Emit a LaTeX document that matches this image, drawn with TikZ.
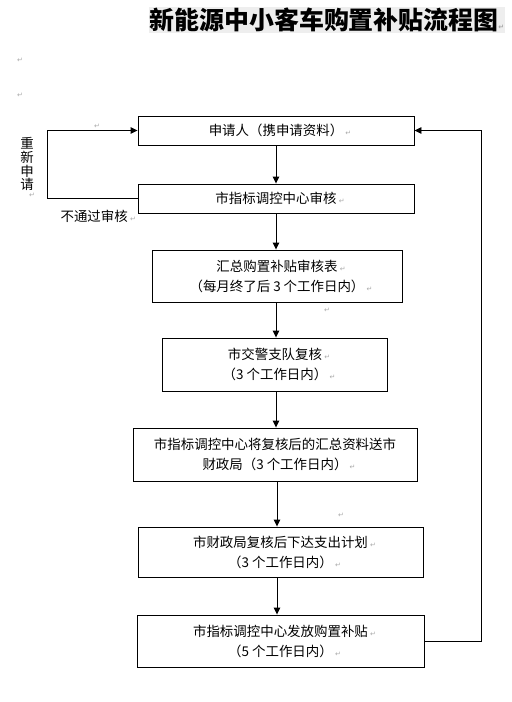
\documentclass[tikz,border=0pt]{standalone}
\usepackage{fontspec}
\setmainfont{Noto Sans CJK SC}
\newfontfamily\markfont{DejaVu Sans}
\usepackage{xcolor}
\definecolor{MarkGray}{HTML}{a8a8a8}
\definecolor{TitleShade}{HTML}{eeeeee}
\usepackage{tikz}
\usetikzlibrary{arrows.meta}

\newcommand{\retmark}{\textcolor{MarkGray}{\markfont\fontsize{7}{7}\selectfont ↵}}
\newcommand{\pmark}{\rlap{\,\retmark}}

\tikzset{
  stepbox/.style={draw, line width=0.9bp, align=center, inner sep=0pt,
    font=\fontsize{13.5}{20}\selectfont},
  flow/.style={line width=0.9bp, -{Triangle[length=7bp,width=6.5bp]}},
  note/.style={font=\fontsize{13.5}{14}\selectfont, inner sep=0pt, align=center},
  retnode/.style={inner sep=0pt},
}

\begin{document}
\begin{tikzpicture}[x=1bp, y=-1bp]
  \useasboundingbox (0,0) rectangle (512,702);
  % title
  \node[fill=TitleShade, inner sep=1bp, font=\bfseries\fontsize{25}{25}\selectfont]
    (title) at (327,20) {新能源中小客车购置补贴流程图\retmark};
  \node[retnode] (m1) at (20,60) {\retmark};
  \node[retnode] (m2) at (20,95) {\retmark};

  % steps
  \node[stepbox, minimum width=276bp, minimum height=29bp] (apply) at (276,130.5)
    {申请人（携申请资料）\pmark};
  \node[stepbox, minimum width=276bp, minimum height=29bp] (check) at (276,198.5)
    {市指标调控中心审核\pmark};
  \node[stepbox, minimum width=250bp, minimum height=52bp] (sum) at (277,276)
    {汇总购置补贴审核表\pmark\\（每月终了后 3 个工作日内）\pmark};
  \node[stepbox, minimum width=225bp, minimum height=53bp] (police) at (275,364.5)
    {市交警支队复核\pmark\\（3 个工作日内）\pmark};
  \node[stepbox, minimum width=284bp, minimum height=53bp] (send) at (275,454.5)
    {市指标调控中心将复核后的汇总资料送市\\财政局（3 个工作日内）\pmark};
  \node[stepbox, minimum width=285bp, minimum height=50bp] (finance) at (280.5,552)
    {市财政局复核后下达支出计划\pmark\\（3 个工作日内）\pmark};
  \node[stepbox, minimum width=287bp, minimum height=52bp] (grant) at (280.5,641)
    {市指标调控中心发放购置补贴\pmark\\（5 个工作日内）\pmark};
  \coordinate (axis) at (277,0);

  % down the chain
  \draw[flow] (apply.south) -- (check.north);
  \draw[flow] (check.south) -- (check.south |- sum.north);
  \draw[flow] (check.south |- sum.south) -- (check.south |- police.north);
  \draw[flow] (check.south |- police.south) -- (check.south |- send.north);
  \draw[flow] (axis |- send.south) -- (axis |- finance.north);
  \draw[flow] (axis |- finance.south) -- (axis |- grant.north);

  % loops back
  \draw[flow] (check.west) -- ++(-90,0) |- (apply.west);
  \draw[flow] (grant.east) -- ++(57,0) |- (apply.east);

  \node[note] (again) at (27,164) {重\\新\\申\\请};
  \node[note, anchor=east] (fail) at (128,216) {不通过审核\pmark};
  \node[retnode] (m3) at (97,126) {\retmark};
  \node[retnode] (m4) at (32,195) {\retmark};
  \node[retnode] (m5) at (327,310) {\retmark};
  \node[retnode] (m6) at (341,515) {\retmark};
\end{tikzpicture}
\end{document}
